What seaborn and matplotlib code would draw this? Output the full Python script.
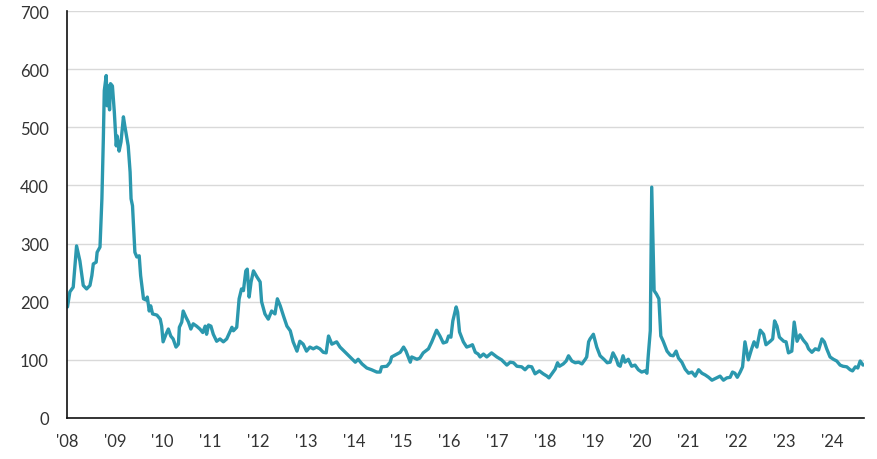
import matplotlib
matplotlib.use("Agg")
import matplotlib.pyplot as plt
import seaborn as sns
import pandas as pd

years = [2008.01, 2008.06, 2008.13, 2008.20, 2008.27, 2008.34, 2008.41, 2008.48, 2008.52, 2008.55,
         2008.61, 2008.63, 2008.69, 2008.73, 2008.76, 2008.78, 2008.82, 2008.84, 2008.87, 2008.89,
         2008.91, 2008.95, 2008.99, 2009.03, 2009.05, 2009.09, 2009.13, 2009.18, 2009.21, 2009.28,
         2009.32, 2009.34, 2009.37, 2009.42, 2009.46, 2009.51, 2009.54, 2009.60, 2009.65, 2009.68,
         2009.72, 2009.75, 2009.79, 2009.88, 2009.95, 2009.98, 2010.01, 2010.07, 2010.12, 2010.17,
         2010.22, 2010.28, 2010.33, 2010.35, 2010.40, 2010.43, 2010.49, 2010.54, 2010.59, 2010.64,
         2010.71, 2010.78, 2010.84, 2010.89, 2010.92, 2010.96, 2011.01, 2011.06, 2011.13, 2011.20,
         2011.27, 2011.34, 2011.45, 2011.48, 2011.55, 2011.60, 2011.65, 2011.69, 2011.74, 2011.77,
         2011.81, 2011.85, 2011.90, 2011.97, 2012.04, 2012.07, 2012.14, 2012.21, 2012.28, 2012.35,
         2012.40, 2012.46, 2012.53, 2012.60, 2012.67, 2012.73, 2012.81, 2012.87, 2012.94, 2013.01,
         2013.08, 2013.15, 2013.22, 2013.29, 2013.36, 2013.42, 2013.47, 2013.54, 2013.64, 2013.71,
         2013.82, 2013.92, 2014.03, 2014.09, 2014.17, 2014.27, 2014.37, 2014.48, 2014.55, 2014.58,
         2014.69, 2014.76, 2014.79, 2014.90, 2014.97, 2015.04, 2015.09, 2015.18, 2015.21, 2015.32,
         2015.38, 2015.45, 2015.56, 2015.63, 2015.73, 2015.80, 2015.87, 2015.94, 2015.98, 2016.03,
         2016.07, 2016.14, 2016.17, 2016.21, 2016.29, 2016.36, 2016.43, 2016.48, 2016.54, 2016.60,
         2016.64, 2016.71, 2016.78, 2016.88, 2016.99, 2017.09, 2017.20, 2017.27, 2017.34, 2017.41,
         2017.51, 2017.58, 2017.65, 2017.72, 2017.79, 2017.88, 2017.96, 2018.04, 2018.08, 2018.14,
         2018.21, 2018.26, 2018.30, 2018.38, 2018.44, 2018.49, 2018.56, 2018.63, 2018.70, 2018.77,
         2018.84, 2018.87, 2018.91, 2018.94, 2019.01, 2019.08, 2019.15, 2019.23, 2019.30, 2019.36,
         2019.42, 2019.49, 2019.53, 2019.57, 2019.63, 2019.67, 2019.74, 2019.81, 2019.88, 2019.95,
         2020.02, 2020.09, 2020.13, 2020.16, 2020.20, 2020.23, 2020.26, 2020.28, 2020.33, 2020.38,
         2020.42, 2020.47, 2020.55, 2020.62, 2020.68, 2020.74, 2020.79, 2020.86, 2020.93, 2021.00,
         2021.07, 2021.14, 2021.21, 2021.28, 2021.35, 2021.42, 2021.49, 2021.59, 2021.66, 2021.73,
         2021.80, 2021.87, 2021.92, 2021.97, 2022.02, 2022.08, 2022.13, 2022.18, 2022.25, 2022.32,
         2022.37, 2022.43, 2022.50, 2022.57, 2022.62, 2022.71, 2022.76, 2022.80, 2022.85, 2022.90,
         2022.99, 2023.04, 2023.09, 2023.16, 2023.21, 2023.27, 2023.33, 2023.40, 2023.47, 2023.51,
         2023.58, 2023.65, 2023.72, 2023.79, 2023.84, 2023.89, 2023.96, 2024.03, 2024.10, 2024.17,
         2024.23, 2024.31, 2024.38, 2024.43, 2024.49, 2024.54, 2024.59, 2024.65]

spread = [191, 217, 225, 296, 270, 228, 222, 228, 245, 265,
          268, 285, 294, 377, 480, 563, 589, 537, 571, 530,
          575, 571, 526, 468, 485, 459, 475, 518, 502, 468,
          423, 377, 365, 285, 277, 279, 245, 205, 203, 208,
          184, 193, 179, 177, 170, 158, 131, 144, 153, 141,
          136, 122, 127, 156, 165, 184, 173, 165, 153, 162,
          158, 153, 147, 158, 144, 160, 158, 144, 132, 136,
          131, 136, 156, 150, 156, 205, 222, 219, 253, 256,
          208, 234, 253, 243, 234, 200, 179, 170, 184, 179,
          205, 193, 175, 158, 150, 131, 115, 132, 127, 115,
          122, 119, 122, 119, 113, 112, 141, 127, 131, 122,
          113, 105, 96, 101, 93, 86, 83, 79, 79, 88,
          89, 96, 105, 110, 113, 122, 115, 96, 105, 101,
          103, 112, 119, 131, 151, 141, 129, 131, 141, 139,
          167, 191, 182, 148, 131, 122, 124, 126, 113, 110,
          105, 110, 105, 112, 105, 100, 91, 96, 95, 89,
          88, 83, 89, 88, 76, 81, 76, 72, 69, 76,
          84, 95, 89, 93, 98, 107, 98, 95, 96, 93,
          101, 105, 131, 136, 144, 122, 107, 101, 95, 96,
          112, 101, 91, 89, 107, 96, 101, 89, 91, 83,
          79, 81, 77, 110, 150, 397, 291, 219, 213, 205,
          141, 132, 115, 108, 107, 115, 103, 96, 84, 77,
          79, 72, 83, 77, 74, 70, 65, 69, 72, 65,
          69, 70, 79, 77, 70, 79, 88, 131, 100, 119,
          131, 122, 151, 144, 126, 132, 136, 167, 158, 139,
          132, 131, 112, 115, 165, 132, 143, 134, 127, 119,
          113, 119, 117, 136, 131, 119, 105, 101, 98, 91,
          89, 88, 83, 81, 88, 86, 98, 91]

tick_years = list(range(2008, 2025))
tick_labels = ["'" + str(y)[2:] for y in tick_years]
y_ticks = [0, 100, 200, 300, 400, 500, 600, 700]

df = pd.DataFrame({"year": years, "spread": spread})

sns.set_style("white")
plt.rcParams["font.family"] = ["Lato", "DejaVu Sans"]

fig = plt.figure(figsize=(8.77, 4.60), dpi=100)
ax = fig.add_axes([67 / 877, 41 / 460, 797 / 877, 407 / 460])

sns.lineplot(data=df, x="year", y="spread", ax=ax, color="#2b98ae", linewidth=2.4)

ax.set_xlim(2008, 2024.67)
ax.set_ylim(0, 700)
ax.set_xticks(tick_years)
ax.set_xticklabels(tick_labels)
ax.set_yticks(y_ticks)
ax.set_yticklabels([str(v) for v in y_ticks])
ax.set_xlabel("")
ax.set_ylabel("")

ax.yaxis.grid(True, color="#d9d9d9", linewidth=1)
ax.xaxis.grid(False)
ax.set_axisbelow(True)

for side in ["top", "right"]:
    ax.spines[side].set_visible(False)
for side in ["left", "bottom"]:
    ax.spines[side].set_color("#111111")
    ax.spines[side].set_linewidth(1.2)

ax.tick_params(axis="both", length=0, labelsize=12, labelcolor="#333333")
ax.tick_params(axis="y", pad=13)
ax.tick_params(axis="x", pad=11)

fig.savefig("out.png", dpi=100)
